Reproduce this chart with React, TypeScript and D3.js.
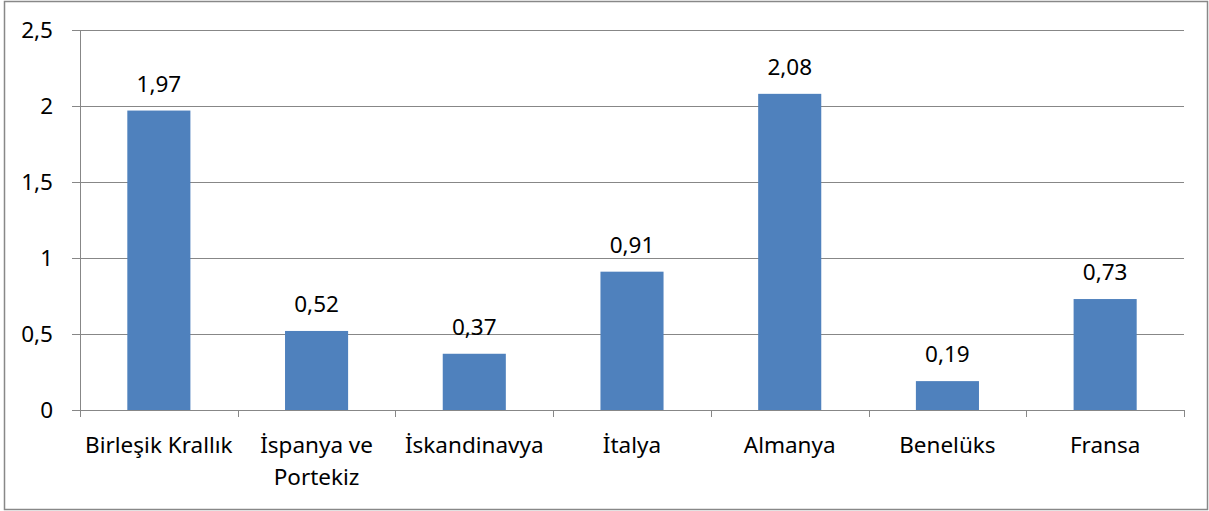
import React from "react";
import * as d3 from "d3";

const categories: string[][] = [
  ["Birleşik Krallık"],
  ["İspanya ve", "Portekiz"],
  ["İskandinavya"],
  ["İtalya"],
  ["Almanya"],
  ["Benelüks"],
  ["Fransa"],
];
const values: number[] = [1.97, 0.52, 0.37, 0.91, 2.08, 0.19, 0.73];
const yTicks: number[] = [0, 0.5, 1, 1.5, 2, 2.5];

const fmt = (v: number) => String(v).replace(".", ",");

export default function App() {
  const W = 1209, H = 511;
  const left = 80, right = 1184, top = 30, bottom = 410;
  const x = d3.scaleBand<number>().domain(d3.range(categories.length)).range([left, right]).paddingInner(0.6).paddingOuter(0.3);
  const xb = d3.scaleBand<number>().domain(d3.range(categories.length)).range([left, right]);
  const y = d3.scaleLinear().domain([0, 2.5]).range([bottom, top]);
  const font = "'Noto Sans', 'Open Sans', sans-serif";
  const fs = 22.5;
  const grid = "#878787";
  return (
    <svg width={W} height={H} style={{ position: "absolute", left: 0, top: 0 }}>
      <rect x={0} y={0} width={W} height={H} fill="#fff" />
      <rect x={4.5} y={1.5} width={W - 6} height={H - 3} fill="none" stroke="#888" strokeWidth={1.5} />
      {yTicks.map((t) => (
        <g key={t}>
          <line x1={left - 8} x2={right} y1={Math.round(y(t)) + 0.5} y2={Math.round(y(t)) + 0.5} stroke={grid} strokeWidth={1} />
          <text x={53} y={y(t) + 7.5} textAnchor="end" fontFamily={font} fontSize={fs} fill="#000">{fmt(t)}</text>
        </g>
      ))}
      <line x1={left + 0.5} x2={left + 0.5} y1={top} y2={bottom} stroke={grid} />
      {d3.range(categories.length + 1).map((i) => {
        const xx = Math.round(left + xb.step() * i) + 0.5;
        return <line key={i} x1={xx} x2={xx} y1={bottom} y2={bottom + 7} stroke={grid} />;
      })}
      {values.map((v, i) => (
        <g key={i}>
          <rect x={x(i)!} y={y(v)} width={x.bandwidth()} height={bottom - y(v)} fill="#4F81BD" />
          <text x={x(i)! + x.bandwidth() / 2} y={y(v) - 19} textAnchor="middle" fontFamily={font} fontSize={fs} fill="#000">{fmt(v)}</text>
        </g>
      ))}
      {categories.map((lines, i) => (
        <text key={i} x={xb(i)! + xb.bandwidth() / 2} y={453} textAnchor="middle" fontFamily={font} fontSize={fs} fill="#000">
          {lines.map((l, j) => (
            <tspan key={j} x={xb(i)! + xb.bandwidth() / 2} dy={j === 0 ? 0 : 32}>{l}</tspan>
          ))}
        </text>
      ))}
    </svg>
  );
}
